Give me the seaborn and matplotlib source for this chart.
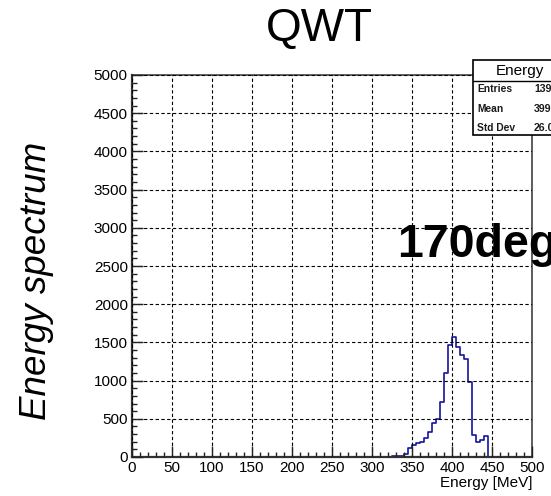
import numpy as np
import pandas as pd
import matplotlib
matplotlib.use("Agg")
import matplotlib.pyplot as plt
from matplotlib.patches import Rectangle
from matplotlib.lines import Line2D
from matplotlib.ticker import MultipleLocator
import seaborn as sns

# Energy spectrum, 5 MeV bins (left edges) and counts per bin
bin_left = [325, 330, 335, 340, 345, 350, 355, 360, 365, 370, 375, 380,
            385, 390, 395, 400, 405, 410, 415, 420, 425, 430, 435, 440]
counts = [10, 12, 15, 45, 120, 160, 180, 200, 253, 331, 441, 493,
          724, 1096, 1466, 1567, 1444, 1335, 1278, 985, 288, 190, 222, 270]
bin_width = 5
x_range = (0, 500)
y_range = (0, 5000)

title = "QWT"
y_title = "Energy spectrum"
x_title = "Energy [MeV]"
tag = "170deg"
stats_name = "Energy"
stats_labels = ["Entries", "Mean", "Std Dev"]
stats_values = ["13925", "399.4", "26.04"]

df = pd.DataFrame({"energy": np.array(bin_left) + bin_width / 2,
                   "count": counts})

sns.set_style("white")
plt.rcParams["font.family"] = ["Liberation Sans", "DejaVu Sans"]
plt.rcParams["text.color"] = "black"

W, H = 551, 496
fig = plt.figure(figsize=(W / 100, H / 100), dpi=100)
ax = fig.add_axes([132 / W, 1 - 457 / H, 400 / W, 382 / H])

sns.histplot(data=df, x="energy", weights="count",
             binwidth=bin_width, binrange=x_range,
             element="step", fill=False, color="#14149e", linewidth=1.2,
             ax=ax)

ax.set_xlim(*x_range)
ax.set_ylim(*y_range)
ax.set_xlabel("")
ax.set_ylabel("")

ax.xaxis.set_major_locator(MultipleLocator(50))
ax.xaxis.set_minor_locator(MultipleLocator(10))
ax.yaxis.set_major_locator(MultipleLocator(500))
ax.yaxis.set_minor_locator(MultipleLocator(100))
ax.tick_params(which="both", direction="in", top=False, right=False,
               bottom=True, left=True,
               colors="#222222", labelcolor="black", labelsize=11, width=1)
ax.tick_params(which="major", length=8, pad=3)
ax.tick_params(which="minor", length=3.6)

ax.grid(True, which="major", color="black", linestyle=(0, (3, 2.2)),
        linewidth=0.8)
ax.set_axisbelow(False)
for s in ax.spines.values():
    s.set_visible(True)
    s.set_color("#333333")
    s.set_linewidth(1.1)
ax.spines["left"].set_linewidth(1.6)
ax.spines["bottom"].set_linewidth(1.6)

# titles
fig.text(319 / W, 1 - 29 / H, title, ha="center", va="center", fontsize=33)
fig.text(37 / W, 1 - 281 / H, y_title, ha="center", va="center",
         rotation=90, fontsize=26.5, style="italic")
fig.text(532 / W, 1 - 487 / H, x_title, ha="right", va="baseline",
         fontsize=11)
fig.text(397 / W, 1 - 257 / H, tag, ha="left", va="baseline",
         fontsize=33.5, fontweight="bold")

# statistics box (runs past the right edge of the canvas)
bx0, by0, by1 = 473, 60, 135
box = Rectangle((bx0 / W, 1 - by1 / H), (W + 20 - bx0) / W, (by1 - by0) / H,
                transform=fig.transFigure, facecolor="white",
                edgecolor="black", linewidth=1.2, zorder=10)
fig.add_artist(box)
fig.add_artist(Line2D([bx0 / W, 1.02], [1 - 81 / H, 1 - 81 / H],
                      transform=fig.transFigure, color="black",
                      linewidth=1.0, zorder=11))
fig.text(520 / W, 1 - 71 / H, stats_name, ha="center", va="center",
         fontsize=11, zorder=12)
for i, (lab, val) in enumerate(zip(stats_labels, stats_values)):
    yy = 1 - (89 + 19.5 * i) / H
    fig.text(477 / W, yy, lab, ha="left", va="center", fontsize=7.4,
             fontweight="bold", color="#1a1a1a", zorder=12)
    fig.text(534 / W, yy, val, ha="left", va="center", fontsize=7.6,
             fontweight="bold", color="#1a1a1a", zorder=12)

fig.savefig("out.png", dpi=100, facecolor="white")
